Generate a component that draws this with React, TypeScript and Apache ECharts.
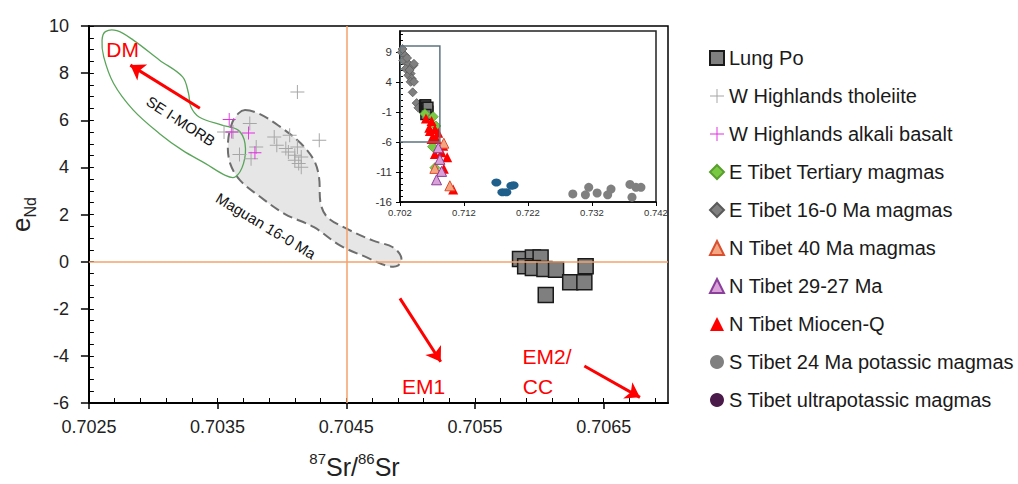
import React, { useEffect, useRef } from "react";
import * as echarts from "echarts";

// ---------- tick labels ----------
const mainXTicks = [0.7025, 0.7035, 0.7045, 0.7055, 0.7065];
const mainYTicks = [-6, -4, -2, 0, 2, 4, 6, 8, 10];
const insetXTicks = [0.702, 0.712, 0.722, 0.732, 0.742];
const insetYTicks = [-16, -11, -6, -1, 4, 9];

// ---------- main plot data ----------
const lungPo = [
  [0.70585, 0.11], [0.70595, 0.18], [0.70601, 0.18], [0.70589, -0.2],
  [0.70595, -0.27], [0.70604, -0.31], [0.70613, -0.34], [0.70624, -0.88],
  [0.70635, -0.88], [0.70636, -0.2], [0.70605, -1.42],
];
const wHighlandsTholeiite = [
  [0.70412, 7.2], [0.70355, 5.5], [0.70375, 5.86], [0.7038, 4.86], [0.70367, 4.55],
  [0.70376, 4.37], [0.70394, 5.29], [0.70406, 5.36], [0.70429, 5.15], [0.70396, 4.94],
  [0.70403, 4.8], [0.70412, 4.86], [0.70405, 4.65], [0.7041, 4.51], [0.70415, 4.44],
  [0.70413, 4.16], [0.70415, 4.01], [0.70362, 5.5], [0.7041, 4.3],
];
const wHighlandsAlkali = [
  [0.70359, 6.03], [0.70361, 5.5], [0.70374, 5.46], [0.70379, 4.62],
];
const maguanField = [
  [0.703713, 6.43], [0.703816, 6.29], [0.703969, 5.79], [0.704148, 5.01], [0.704249, 4.3],
  [0.704288, 3.59], [0.704301, 2.46], [0.704352, 1.89], [0.704479, 1.46], [0.704709, 0.89],
  [0.704862, 0.61], [0.704927, 0.18], [0.704901, -0.17], [0.704812, -0.17], [0.704659, 0.18],
  [0.704454, 0.68], [0.704249, 1.46], [0.70402, 2.03], [0.703816, 2.81], [0.703675, 3.45],
  [0.703598, 4.16], [0.70358, 5.01], [0.703611, 5.86], [0.703662, 6.29],
];
const seiMorbField = [
  [0.702628, 9.76], [0.702717, 9.8], [0.702845, 9.4], [0.703049, 8.55], [0.703228, 7.84],
  [0.703274, 7.14], [0.703292, 6.57], [0.703356, 6.14], [0.703534, 5.79], [0.703662, 5.57],
  [0.703713, 5.01], [0.703701, 4.16], [0.703636, 3.59], [0.70356, 3.66], [0.703407, 4.16],
  [0.703228, 4.72], [0.703049, 5.43], [0.702845, 6.43], [0.702692, 7.56], [0.702615, 8.69],
  [0.702602, 9.4],
];
const refLineSr = 0.7045;
const refLineNd = 0;
const arrows = [
  [[0.703362, 6.51], [0.702822, 8.34]],
  [[0.704917, -1.56], [0.705234, -4.25]],
  [[0.70635, -4.43], [0.706782, -5.76]],
];
const annotations = [
  { text: "DM", at: [0.702762, 9.02], rotate: 0, red: true },
  { text: "SE I-MORB", at: [0.703214, 5.97], rotate: -33, red: false },
  { text: "Maguan 16-0 Ma", at: [0.703876, 1.52], rotate: -31, red: false },
  { text: "EM1", at: [0.7051, -5.28], rotate: 0, red: true },
  { text: "EM2/", at: [0.70606, -4.04], rotate: 0, red: true },
  { text: "CC", at: [0.70599, -5.28], rotate: 0, red: true },
];

// ---------- inset data ----------
const insetBox = [[0.702, -6], [0.70823, -6], [0.70823, 10], [0.702, 10]];
const eTibet160 = [
  [0.70226, 8.95], [0.70278, 8.4], [0.70252, 7.6], [0.7033, 7.03], [0.70289, 6.2],
  [0.70366, 5.4], [0.70407, 6.75], [0.7033, 5.13], [0.70382, 4.57], [0.70418, 7.03],
  [0.70366, 4.03], [0.70418, 4.03], [0.70398, 2.28], [0.7046, 0.48], [0.70488, -0.3],
  [0.7024, 9.5], [0.7031, 8.0], [0.7035, 6.0],
];
const eTibetTertiary = [
  [0.70589, -1.28], [0.70719, -1.78], [0.70761, -3.33], [0.70709, -6.78], [0.70745, -10.28],
];
const nTibetMiocene = [
  [0.70605, -2.08], [0.70693, -2.52], [0.70657, -3.62], [0.70745, -3.89], [0.70667, -4.16],
  [0.70797, -4.44], [0.70719, -5.26], [0.70771, -5.52], [0.70693, -5.52], [0.70875, -6.62],
  [0.70745, -7.98], [0.70849, -7.72], [0.70937, -8.54], [0.70885, -10.44], [0.71031, -13.9],
];
const nTibet40 = [[0.70885, -6.2], [0.70745, -10.4], [0.70979, -13.3]];
const nTibet2927 = [[0.70797, -6.95], [0.70823, -8.9], [0.7085, -10.9], [0.70771, -12.3]];
const sTibet24 = [
  [0.729, -14.65], [0.73097, -14.8], [0.73149, -13.56], [0.7328, -14.5], [0.73445, -14.8],
  [0.73497, -13.84], [0.73793, -13.07], [0.73887, -13.56], [0.73965, -13.56], [0.73825, -15.2],
];
const sTibetUltra = [[0.71706, -12.74], [0.718, -14.38], [0.71862, -14.38], [0.7194, -13.3], [0.71975, -13.2]];

const legendNames = [
  "Lung Po", "W Highlands tholeiite", "W Highlands alkali basalt", "E Tibet Tertiary magmas",
  "E Tibet 16-0 Ma magmas", "N Tibet 40 Ma magmas", "N Tibet 29-27 Ma", "N Tibet Miocen-Q",
  "S Tibet 24 Ma potassic magmas", "S Tibet ultrapotassic magmas",
];

const FONT = '"Liberation Sans", Arial, sans-serif';
const PLUS = "path://M9.3,0H10.7V9.3H20V10.7H10.7V20H9.3V10.7H0V9.3H9.3Z";

function range(a: number, b: number, step: number, dp: number) {
  const out: number[] = [];
  for (let v = a; v <= b + step / 1000; v += step) out.push(Number(v.toFixed(dp)));
  return out;
}

function polygonSeries(pts: number[][], style: any, gi: number, z: number, smooth: number) {
  return {
    type: "custom",
    xAxisIndex: gi === 0 ? 0 : 2,
    yAxisIndex: gi === 0 ? 0 : 2,
    z,
    silent: true,
    clip: true,
    data: [pts[0]],
    renderItem: (_p: any, api: any) => ({
      type: "polygon",
      shape: { points: pts.map((p) => api.coord(p)), smooth },
      style,
    }),
  };
}

export default function App() {
  const ref = useRef<HTMLDivElement>(null);
  useEffect(() => {
    if (!ref.current) return;
    const chart = echarts.init(ref.current, undefined, { renderer: "svg" });
    const lungStyle = { color: "#7f7f7f", borderColor: "#1a1a1a", borderWidth: 1.5, opacity: 1 };
    const option: any = {
      animation: false,
      textStyle: { fontFamily: FONT },
      grid: [
        { left: 85, top: 26, width: 583, height: 377, show: true, borderColor: "#000", borderWidth: 1.5, backgroundColor: "transparent" },
        { left: 400, top: 31, width: 256, height: 171, show: true, borderColor: "#222", borderWidth: 1.5, backgroundColor: "#fff" },
      ],
      xAxis: [
        {
          type: "value", gridIndex: 0, position: "bottom", min: 0.7025, max: 0.707,
          axisLine: { onZero: false, lineStyle: { color: "#000", width: 2 } },
          axisTick: { length: 6, customValues: mainXTicks, lineStyle: { color: "#000", width: 1.5 } },
          axisLabel: { customValues: mainXTicks, formatter: (v: number) => v.toFixed(4), fontSize: 18, color: "#222", margin: 15 },
          splitLine: { show: false },
          name: "{sup|87}{m|Sr/}{sup|86}{m|Sr}",
          nameLocation: "middle", nameGap: 48,
          nameTextStyle: {
            padding: [0, 48, 0, 0],
            rich: {
              sup: { fontSize: 15, verticalAlign: "top", lineHeight: 28, color: "#222", fontFamily: FONT },
              m: { fontSize: 25, verticalAlign: "bottom", lineHeight: 28, color: "#222", fontFamily: FONT },
            },
          },
        },
        {
          type: "value", gridIndex: 0, position: "bottom", min: 0.7025, max: 0.707,
          axisLine: { show: false, onZero: false },
          axisTick: { show: true, inside: true, length: 5, customValues: range(0.7025, 0.707, 0.0002, 4), lineStyle: { color: "#000" } },
          axisLabel: { show: false }, splitLine: { show: false },
        },
        {
          type: "value", gridIndex: 1, position: "bottom", min: 0.702, max: 0.742,
          axisLine: { onZero: false, lineStyle: { color: "#000", width: 1.5 } },
          axisTick: { length: 4, customValues: insetXTicks, lineStyle: { color: "#000" } },
          axisLabel: { customValues: insetXTicks, formatter: (v: number) => v.toFixed(3), fontSize: 9.5, color: "#333", margin: 5 },
          splitLine: { show: false },
        },
      ],
      yAxis: [
        {
          type: "value", gridIndex: 0, position: "left", min: -6, max: 10, interval: 2,
          axisLine: { onZero: false, lineStyle: { color: "#000", width: 2 } },
          axisTick: { length: 8, customValues: mainYTicks, lineStyle: { color: "#000", width: 1.5 } },
          axisLabel: { customValues: mainYTicks, fontSize: 18, color: "#222", margin: 20 },
          splitLine: { show: false },
          name: "{e|e}{s|Nd}",
          nameLocation: "middle", nameGap: 45,
          nameTextStyle: {
            rich: {
              e: { fontSize: 26, verticalAlign: "top", lineHeight: 30, color: "#222", fontFamily: FONT },
              s: { fontSize: 16, verticalAlign: "bottom", lineHeight: 30, color: "#222", fontFamily: FONT },
            },
          },
        },
        {
          type: "value", gridIndex: 0, position: "left", min: -6, max: 10,
          axisLine: { show: false, onZero: false },
          axisTick: { show: true, inside: true, length: 5, customValues: range(-6, 10, 0.5, 1), lineStyle: { color: "#000" } },
          axisLabel: { show: false }, splitLine: { show: false },
        },
        {
          type: "value", gridIndex: 1, position: "left", min: -16, max: 12.5,
          axisLine: { onZero: false, lineStyle: { color: "#000", width: 1.5 } },
          axisTick: { length: 4, customValues: insetYTicks, lineStyle: { color: "#000" } },
          axisLabel: { customValues: insetYTicks, fontSize: 11.5, color: "#333", margin: 8 },
          splitLine: { show: false },
        },
        {
          type: "value", gridIndex: 1, position: "left", min: -16, max: 12.5,
          axisLine: { show: false, onZero: false },
          axisTick: { show: true, inside: true, length: 3, customValues: range(-16, 12, 1, 0), lineStyle: { color: "#000" } },
          axisLabel: { show: false }, splitLine: { show: false },
        },
      ],
      legend: {
        orient: "vertical", left: 704, top: 43, itemWidth: 14, itemHeight: 14, itemGap: 18,
        selectedMode: false,
        textStyle: { fontSize: 20, color: "#1a1a1a", fontFamily: FONT },
        data: legendNames.map((n) =>
          n === "S Tibet ultrapotassic magmas" ? { name: n, itemStyle: { color: "#4a1a4a" } } : { name: n }
        ),
      },
      series: [
        polygonSeries(maguanField, { fill: "#e6e6e6", stroke: "#6e6e6e", lineWidth: 2, lineDash: [10, 5] }, 0, 1, 0.35),
        polygonSeries(seiMorbField, { fill: "none", stroke: "#5aa55a", lineWidth: 1.3 }, 0, 1, 0.35),
        {
          type: "scatter", name: "refLines", xAxisIndex: 0, yAxisIndex: 0, z: 2, silent: true,
          data: [],
          markLine: {
            silent: true, symbol: "none", animation: false,
            lineStyle: { color: "#f5a26b", width: 1.5, type: "solid", opacity: 1 },
            label: { show: false },
            data: [
              [{ coord: [refLineSr, -6] }, { coord: [refLineSr, 10] }],
              [{ coord: [0.7025, refLineNd] }, { coord: [0.707, refLineNd] }],
            ],
          },
        },
        {
          type: "scatter", name: "annotations", xAxisIndex: 0, yAxisIndex: 0, z: 5, silent: true,
          symbolSize: 0, itemStyle: { opacity: 1 },
          data: annotations.map((a) => ({
            value: a.at,
            label: {
              show: true, position: "inside", formatter: a.text, rotate: a.rotate,
              color: a.red ? "#ff0000" : "#111", fontSize: a.red ? 21 : 15, fontFamily: FONT,
            },
          })),
          markLine: {
            silent: true, symbol: ["none", "arrow"], symbolSize: 14, animation: false,
            lineStyle: { color: "#ff0000", width: 3, type: "solid", opacity: 1 },
            label: { show: false },
            data: arrows.map(([a, b]) => [{ coord: a }, { coord: b }]),
          },
        },
        {
          type: "scatter", name: "W Highlands tholeiite", xAxisIndex: 0, yAxisIndex: 0, z: 3,
          symbol: PLUS, symbolSize: 14, itemStyle: { color: "#a6a6a6", opacity: 1 }, data: wHighlandsTholeiite,
        },
        {
          type: "scatter", name: "W Highlands alkali basalt", xAxisIndex: 0, yAxisIndex: 0, z: 3,
          symbol: PLUS, symbolSize: 13, itemStyle: { color: "#e22fe2", opacity: 1 }, data: wHighlandsAlkali,
        },
        {
          type: "scatter", name: "Lung Po", xAxisIndex: 0, yAxisIndex: 0, z: 4,
          symbol: "rect", symbolSize: 15, itemStyle: lungStyle, data: lungPo,
        },
        // inset
        polygonSeries(insetBox, { fill: "none", stroke: "#5f7480", lineWidth: 1.5 }, 1, 6, 0),
        {
          type: "scatter", name: "E Tibet 16-0 Ma magmas", xAxisIndex: 2, yAxisIndex: 2, z: 3,
          symbol: "diamond", symbolSize: 9, itemStyle: { color: "#808080", borderColor: "#5a5a5a", borderWidth: 0.8, opacity: 1 }, data: eTibet160,
        },
        {
          type: "scatter", name: "Lung Po", xAxisIndex: 2, yAxisIndex: 2, z: 3,
          symbol: "rect", symbolSize: 10, itemStyle: lungStyle, data: lungPo,
        },
        {
          type: "scatter", name: "E Tibet Tertiary magmas", xAxisIndex: 2, yAxisIndex: 2, z: 4,
          symbol: "diamond", symbolSize: 10, itemStyle: { color: "#7ac943", borderColor: "#5b9e30", borderWidth: 0.8, opacity: 1 }, data: eTibetTertiary,
        },
        {
          type: "scatter", name: "N Tibet Miocen-Q", xAxisIndex: 2, yAxisIndex: 2, z: 4,
          symbol: "triangle", symbolSize: 10, itemStyle: { color: "#ff0000", opacity: 1 }, data: nTibetMiocene,
        },
        {
          type: "scatter", name: "N Tibet 40 Ma magmas", xAxisIndex: 2, yAxisIndex: 2, z: 4,
          symbol: "triangle", symbolSize: 10, itemStyle: { color: "#f4a582", borderColor: "#d9502f", borderWidth: 1, opacity: 1 }, data: nTibet40,
        },
        {
          type: "scatter", name: "N Tibet 29-27 Ma", xAxisIndex: 2, yAxisIndex: 2, z: 4,
          symbol: "triangle", symbolSize: 10, itemStyle: { color: "#d9a0d9", borderColor: "#8a3f9a", borderWidth: 1, opacity: 1 }, data: nTibet2927,
        },
        {
          type: "scatter", name: "S Tibet 24 Ma potassic magmas", xAxisIndex: 2, yAxisIndex: 2, z: 4,
          symbol: "circle", symbolSize: 9, itemStyle: { color: "#808080", opacity: 1 }, data: sTibet24,
        },
        {
          type: "scatter", name: "S Tibet ultrapotassic magmas", xAxisIndex: 2, yAxisIndex: 2, z: 4,
          symbol: "circle", symbolSize: [10, 8], itemStyle: { color: "#1f5f8b", opacity: 1 }, data: sTibetUltra,
        },
      ],
    };
    chart.setOption(option);
    return () => chart.dispose();
  }, []);
  return <div ref={ref} style={{ position: "fixed", left: 0, top: 0, width: 1018, height: 484, background: "#fff" }} />;
}
